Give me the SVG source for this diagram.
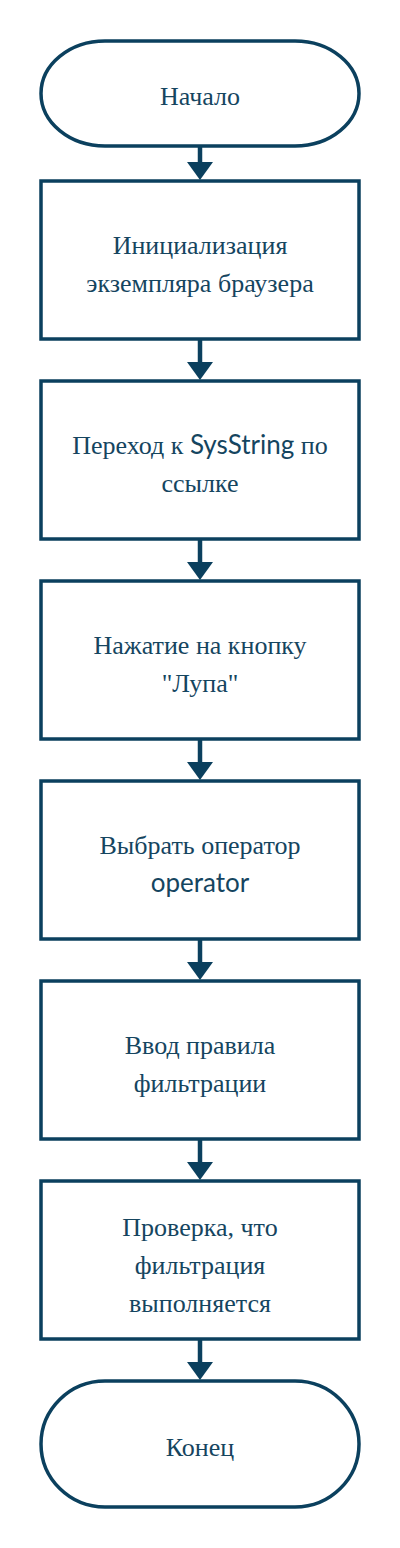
<svg xmlns="http://www.w3.org/2000/svg" width="400" height="1548" viewBox="0 0 400 1548">
<style>
.n{fill:#fff;stroke:#0b405e;stroke-width:3.5}
.c{stroke:#0b405e;stroke-width:4.5;fill:none}
.h{fill:#0b405e}
.t{font-family:'Liberation Serif',serif;font-size:26px;fill:#15455f;text-anchor:middle}
.s{font-family:Lato,sans-serif}
</style>
<rect width="400" height="1548" fill="#fff"/>
<g id="connectors">
<line class="c" x1="200" y1="146" x2="200" y2="164"/><polygon class="h" points="187,162 213,162 200,180"/>
<line class="c" x1="200" y1="340" x2="200" y2="364"/><polygon class="h" points="187,362 213,362 200,380"/>
<line class="c" x1="200" y1="540" x2="200" y2="564"/><polygon class="h" points="187,562 213,562 200,580"/>
<line class="c" x1="200" y1="740" x2="200" y2="764"/><polygon class="h" points="187,762 213,762 200,780"/>
<line class="c" x1="200" y1="940" x2="200" y2="964"/><polygon class="h" points="187,962 213,962 200,980"/>
<line class="c" x1="200" y1="1140" x2="200" y2="1164"/><polygon class="h" points="187,1162 213,1162 200,1180"/>
<line class="c" x1="200" y1="1340" x2="200" y2="1364"/><polygon class="h" points="187,1362 213,1362 200,1380"/>
</g>
<g id="start"><rect class="n" x="41" y="41" width="318" height="105" rx="64"/><text class="t" x="200" y="105">Начало</text></g>
<g id="step1"><rect class="n" x="41" y="181" width="318" height="158"/><text class="t" x="200" y="254">Инициализация</text><text class="t" x="200" y="292">экземпляра браузера</text></g>
<g id="step2"><rect class="n" x="41" y="381" width="318" height="158"/><text class="t" x="200" y="454">Переход к <tspan class="s">SysString</tspan> по</text><text class="t" x="200" y="492">ссылке</text></g>
<g id="step3"><rect class="n" x="41" y="581" width="318" height="158"/><text class="t" x="200" y="654">Нажатие на кнопку</text><text class="t" x="200" y="692">"Лупа"</text></g>
<g id="step4"><rect class="n" x="41" y="781" width="318" height="158"/><text class="t" x="200" y="854">Выбрать оператор</text><text class="t s" x="200" y="892">operator</text></g>
<g id="step5"><rect class="n" x="41" y="981" width="318" height="158"/><text class="t" x="200" y="1054">Ввод правила</text><text class="t" x="200" y="1092">фильтрации</text></g>
<g id="step6"><rect class="n" x="41" y="1181" width="318" height="158"/><text class="t" x="200" y="1236">Проверка, что</text><text class="t" x="200" y="1274">фильтрация</text><text class="t" x="200" y="1312">выполняется</text></g>
<g id="end"><rect class="n" x="41" y="1381" width="318" height="126" rx="64"/><text class="t" x="200" y="1456">Конец</text></g>
</svg>
